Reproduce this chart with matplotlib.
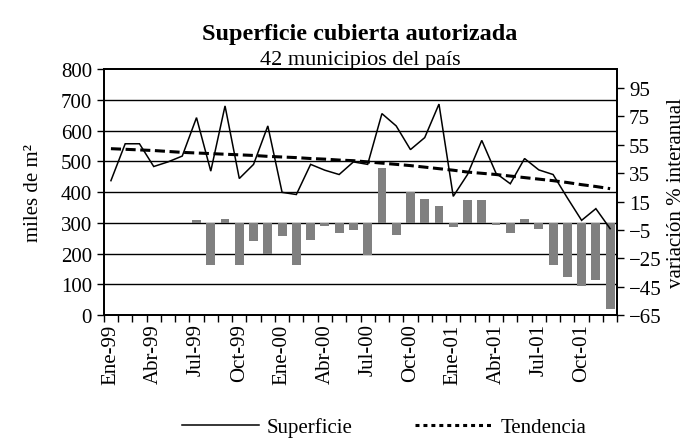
import numpy as np
import matplotlib
matplotlib.use("Agg")
import matplotlib.pyplot as plt
from matplotlib.lines import Line2D

plt.rcParams["font.family"] = ["Liberation Serif", "DejaVu Serif"]

# ---------------------------------------------------------------------
# Datos
# ---------------------------------------------------------------------
meses = ["Ene-99", "Feb-99", "Mar-99", "Abr-99", "May-99", "Jun-99",
         "Jul-99", "Ago-99", "Sep-99", "Oct-99", "Nov-99", "Dic-99",
         "Ene-00", "Feb-00", "Mar-00", "Abr-00", "May-00", "Jun-00",
         "Jul-00", "Ago-00", "Sep-00", "Oct-00", "Nov-00", "Dic-00",
         "Ene-01", "Feb-01", "Mar-01", "Abr-01", "May-01", "Jun-01",
         "Jul-01", "Ago-01", "Sep-01", "Oct-01", "Nov-01", "Dic-01"]

superficie = [437, 557, 557, 483, 498, 517, 642, 468, 680, 444, 490, 615,
              399, 392, 490, 471, 457, 498, 490, 655, 615, 538, 577, 686,
              386, 457, 568, 461, 427, 509, 472, 457, 381, 308, 346, 281]

tendencia = [541, 539, 537, 535, 532, 529, 527, 525, 523, 521, 519, 516,
             514, 512, 509, 507, 504, 502, 498, 494, 490, 486, 481, 476,
             471, 465, 461, 457, 452, 447, 442, 437, 431, 424, 418, 411]

# variación % interanual (sin dato hasta Jun-99)
variacion = [np.nan] * 6 + [2, -30, 3, -30, -13, -22,
                            -9, -30, -12, -2, -7.5, -5,
                            -22.5, 38.5, -8.5, 21.5, 17, 11.5,
                            -3, 16, 16, -1.7, -7.3, 3,
                            -4.5, -29.5, -38.5, -44.3, -40, -61]

# ---------------------------------------------------------------------
x = np.arange(len(meses))
fig = plt.figure(figsize=(6.92, 4.39), dpi=100)
rect = [0.150, 0.280, 0.742, 0.5605]

ax = fig.add_axes(rect)             # eje izquierdo + grilla
ax2 = ax.twinx()                    # barras (eje derecho)
ax3 = ax.twinx()                    # líneas sobre las barras

YMAX = 800
R_MIN, R_MAX = -65, -65 + 173.33    # 0 % alineado con 300 del eje izquierdo
FS = 15

ax.set_ylim(0, YMAX)
ax.set_xlim(-0.5, len(meses) - 0.5)
ax.set_yticks(np.arange(0, 801, 100))
for v in range(100, 800, 100):
    ax.axhline(v, color="black", lw=1.0, zorder=0)

ax2.bar(x, variacion, width=0.62, bottom=0, color="#808080", zorder=2)
ax2.set_ylim(R_MIN, R_MAX)
ax2.set_yticks(np.arange(-65, 96, 20))

ax3.set_ylim(0, YMAX)
ax3.plot(x, superficie, color="black", lw=1.1, solid_joinstyle="miter")
ax3.plot(x, tendencia, color="black", lw=2.2, dashes=(3.3, 1.5))
ax3.set_yticks([])
for s in ax3.spines.values():
    s.set_visible(False)

# eje x: marcas en los límites de cada mes, etiquetas cada 3 meses
ax.set_xticks(np.arange(-0.5, len(meses)), labels=[])
ax.set_xticks(x[::3], labels=[meses[i] for i in x[::3]], minor=True,
              rotation=90)
ax.tick_params(axis="x", which="major", direction="out", length=5, width=1)
ax.tick_params(axis="x", which="minor", length=0, labelsize=FS, pad=6)
ax.tick_params(axis="y", direction="out", length=5, width=1, labelsize=FS)
ax2.tick_params(axis="y", direction="out", length=5, width=1, labelsize=FS)
for a in (ax, ax2):
    for s in a.spines.values():
        s.set_linewidth(1.3)

ax.set_ylabel("miles de m²", fontsize=FS, labelpad=13)
ax2.set_ylabel("variación % interanual", fontsize=FS, labelpad=4)

fig.text(0.5205, 0.922, "Superficie cubierta autorizada", ha="center",
         va="center", fontsize=17.5, fontweight="bold")
fig.text(0.5205, 0.863, "42 municipios del país", ha="center",
         va="center", fontsize=16)

handles = [Line2D([], [], color="black", lw=1.1),
           Line2D([], [], color="black", lw=2.2, dashes=(1.3, 1.3))]
fig.legend(handles, ["Superficie", "Tendencia"], loc="center",
           bbox_to_anchor=(0.555, 0.024), ncol=2, frameon=False, fontsize=FS,
           handlelength=3.7, handletextpad=0.4, columnspacing=3.0)

fig.savefig("out.png", dpi=100)
